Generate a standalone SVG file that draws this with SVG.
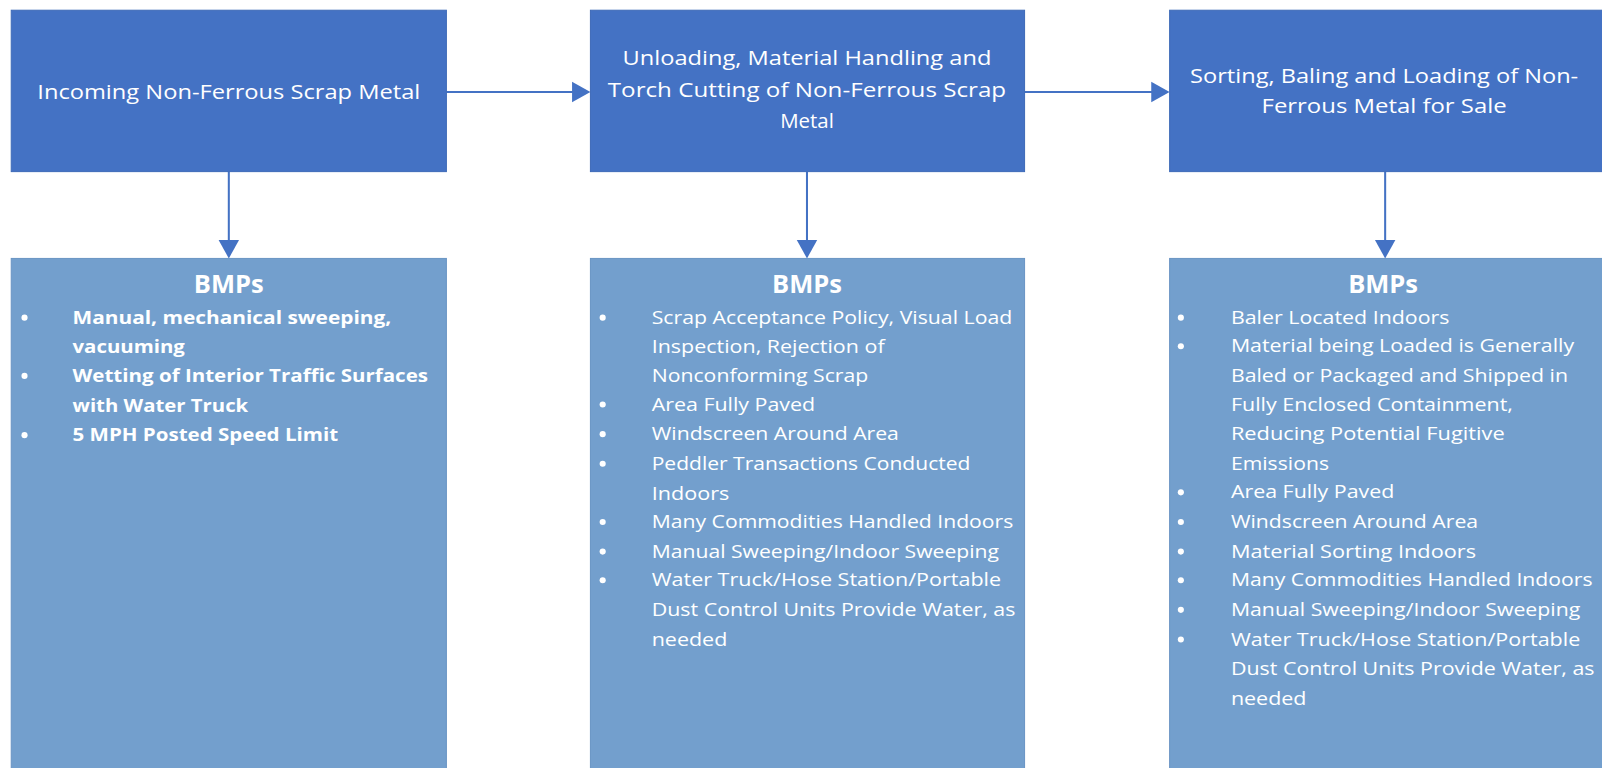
<svg xmlns="http://www.w3.org/2000/svg" width="1602" height="768" viewBox="0 0 1602 768">
<style>
.proc{fill:#4472C4;stroke:#3f6bb8;stroke-width:1}
.bmp{fill:#739FCD;stroke:#6a95c4;stroke-width:1}
.pt{font-family:"Open Sans","Liberation Sans",sans-serif;font-size:20px;fill:#ffffff;text-anchor:middle}
.h{font-family:"Open Sans","Liberation Sans",sans-serif;font-size:25px;font-weight:bold;fill:#ffffff;text-anchor:middle}
.b{font-family:"Open Sans","Liberation Sans",sans-serif;font-size:18px;fill:#ffffff}
.bb{font-family:"Open Sans","Liberation Sans",sans-serif;font-size:18px;font-weight:bold;fill:#ffffff}
.dot{fill:#ffffff}
.ln{stroke:#4472C4;stroke-width:2;fill:none}
.hd{fill:#4472C4}
</style>
<rect width="1602" height="768" fill="#ffffff"/>
<g transform="scale(1.0215)">
<g id="connectors">
<line class="ln" x1="437" y1="90" x2="562" y2="90"/>
<path class="hd" d="M560,80 L578,90 L560,100 z"/>
<line class="ln" x1="1003" y1="90" x2="1129" y2="90"/>
<path class="hd" d="M1127,80 L1145,90 L1127,100 z"/>
<line class="ln" x1="224" y1="168" x2="224" y2="237"/>
<path class="hd" d="M214,235 L224,253 L234,235 z"/>
<line class="ln" x1="790" y1="168" x2="790" y2="237"/>
<path class="hd" d="M780,235 L790,253 L800,235 z"/>
<line class="ln" x1="1356" y1="168" x2="1356" y2="237"/>
<path class="hd" d="M1346,235 L1356,253 L1366,235 z"/>
</g>
<g id="node-incoming">
<rect class="proc" x="11" y="10" width="426" height="158"/>
<text class="pt" x="224" y="97" textLength="375" lengthAdjust="spacingAndGlyphs">Incoming Non-Ferrous Scrap Metal</text>
</g>
<g id="node-unloading">
<rect class="proc" x="578" y="10" width="425" height="158"/>
<text class="pt" x="790" y="64" textLength="361" lengthAdjust="spacingAndGlyphs">Unloading, Material Handling and</text>
<text class="pt" x="790" y="95" textLength="390" lengthAdjust="spacingAndGlyphs">Torch Cutting of Non-Ferrous Scrap</text>
<text class="pt" x="790" y="125">Metal</text>
</g>
<g id="node-sorting">
<rect class="proc" x="1145" y="10" width="470" height="158"/>
<text class="pt" x="1355" y="81" textLength="380" lengthAdjust="spacingAndGlyphs">Sorting, Baling and Loading of Non-</text>
<text class="pt" x="1355" y="111" textLength="240" lengthAdjust="spacingAndGlyphs">Ferrous Metal for Sale</text>
</g>
<g id="node-bmp1">
<rect class="bmp" x="11" y="253" width="426" height="530"/>
<text class="h" x="224" y="287">BMPs</text>
<circle class="dot" cx="24" cy="311" r="3"/>
<circle class="dot" cx="24" cy="368" r="3"/>
<circle class="dot" cx="24" cy="426" r="3"/>
<text class="bb" x="71" y="317" textLength="312" lengthAdjust="spacingAndGlyphs">Manual, mechanical sweeping,</text>
<text class="bb" x="71" y="346" textLength="110" lengthAdjust="spacingAndGlyphs">vacuuming</text>
<text class="bb" x="71" y="374" textLength="348" lengthAdjust="spacingAndGlyphs">Wetting of Interior Traffic Surfaces</text>
<text class="bb" x="71" y="403" textLength="172" lengthAdjust="spacingAndGlyphs">with Water Truck</text>
<text class="bb" x="71" y="432" textLength="260" lengthAdjust="spacingAndGlyphs">5 MPH Posted Speed Limit</text>
</g>
<g id="node-bmp2">
<rect class="bmp" x="578" y="253" width="425" height="530"/>
<text class="h" x="790" y="287">BMPs</text>
<circle class="dot" cx="590" cy="311" r="3"/>
<circle class="dot" cx="590" cy="396" r="3"/>
<circle class="dot" cx="590" cy="425" r="3"/>
<circle class="dot" cx="590" cy="454" r="3"/>
<circle class="dot" cx="590" cy="511" r="3"/>
<circle class="dot" cx="590" cy="540" r="3"/>
<circle class="dot" cx="590" cy="568" r="3"/>
<text class="b" x="638" y="317" textLength="353" lengthAdjust="spacingAndGlyphs">Scrap Acceptance Policy, Visual Load</text>
<text class="b" x="638" y="346" textLength="228" lengthAdjust="spacingAndGlyphs">Inspection, Rejection of</text>
<text class="b" x="638" y="374" textLength="212" lengthAdjust="spacingAndGlyphs">Nonconforming Scrap</text>
<text class="b" x="638" y="402" textLength="160" lengthAdjust="spacingAndGlyphs">Area Fully Paved</text>
<text class="b" x="638" y="431" textLength="242" lengthAdjust="spacingAndGlyphs">Windscreen Around Area</text>
<text class="b" x="638" y="460" textLength="312" lengthAdjust="spacingAndGlyphs">Peddler Transactions Conducted</text>
<text class="b" x="638" y="489" textLength="76" lengthAdjust="spacingAndGlyphs">Indoors</text>
<text class="b" x="638" y="517" textLength="354" lengthAdjust="spacingAndGlyphs">Many Commodities Handled Indoors</text>
<text class="b" x="638" y="546" textLength="340" lengthAdjust="spacingAndGlyphs">Manual Sweeping/Indoor Sweeping</text>
<text class="b" x="638" y="574" textLength="342" lengthAdjust="spacingAndGlyphs">Water Truck/Hose Station/Portable</text>
<text class="b" x="638" y="603" textLength="356" lengthAdjust="spacingAndGlyphs">Dust Control Units Provide Water, as</text>
<text class="b" x="638" y="632" textLength="74" lengthAdjust="spacingAndGlyphs">needed</text>
</g>
<g id="node-bmp3">
<rect class="bmp" x="1145" y="253" width="470" height="530"/>
<text class="h" x="1354" y="287">BMPs</text>
<circle class="dot" cx="1156" cy="311" r="3"/>
<circle class="dot" cx="1156" cy="339" r="3"/>
<circle class="dot" cx="1156" cy="482" r="3"/>
<circle class="dot" cx="1156" cy="511" r="3"/>
<circle class="dot" cx="1156" cy="540" r="3"/>
<circle class="dot" cx="1156" cy="568" r="3"/>
<circle class="dot" cx="1156" cy="597" r="3"/>
<circle class="dot" cx="1156" cy="626" r="3"/>
<text class="b" x="1205" y="317" textLength="214" lengthAdjust="spacingAndGlyphs">Baler Located Indoors</text>
<text class="b" x="1205" y="345" textLength="336" lengthAdjust="spacingAndGlyphs">Material being Loaded is Generally</text>
<text class="b" x="1205" y="374" textLength="330" lengthAdjust="spacingAndGlyphs">Baled or Packaged and Shipped in</text>
<text class="b" x="1205" y="402" textLength="276" lengthAdjust="spacingAndGlyphs">Fully Enclosed Containment,</text>
<text class="b" x="1205" y="431" textLength="268" lengthAdjust="spacingAndGlyphs">Reducing Potential Fugitive</text>
<text class="b" x="1205" y="460" textLength="96" lengthAdjust="spacingAndGlyphs">Emissions</text>
<text class="b" x="1205" y="488" textLength="160" lengthAdjust="spacingAndGlyphs">Area Fully Paved</text>
<text class="b" x="1205" y="517" textLength="242" lengthAdjust="spacingAndGlyphs">Windscreen Around Area</text>
<text class="b" x="1205" y="546" textLength="240" lengthAdjust="spacingAndGlyphs">Material Sorting Indoors</text>
<text class="b" x="1205" y="574" textLength="354" lengthAdjust="spacingAndGlyphs">Many Commodities Handled Indoors</text>
<text class="b" x="1205" y="603" textLength="342" lengthAdjust="spacingAndGlyphs">Manual Sweeping/Indoor Sweeping</text>
<text class="b" x="1205" y="632" textLength="342" lengthAdjust="spacingAndGlyphs">Water Truck/Hose Station/Portable</text>
<text class="b" x="1205" y="661" textLength="356" lengthAdjust="spacingAndGlyphs">Dust Control Units Provide Water, as</text>
<text class="b" x="1205" y="690" textLength="74" lengthAdjust="spacingAndGlyphs">needed</text>
</g>
</g>
</svg>
